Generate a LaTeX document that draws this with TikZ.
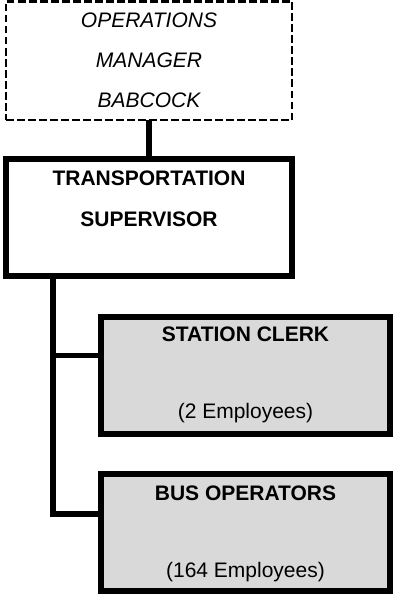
\documentclass[tikz,border=0pt]{standalone}
\usepackage{fontspec}
\setmainfont{Liberation Sans}
\begin{document}
\begin{tikzpicture}[x=1pt,y=-1pt,
  box/.style={draw=black, rectangle, inner sep=0pt, outer sep=0pt, anchor=north west},
  headbox/.style={box, line width=2.6pt, dash pattern=on 7.5pt off 3.5pt},
  mainbox/.style={box, line width=6pt, fill=white},
  staffbox/.style={box, line width=6pt, fill=boxgray},
  link/.style={draw=black, line width=5.5pt},
  lbl/.style={anchor=base, inner sep=0pt, font=\fontsize{21}{25}\selectfont},
  blbl/.style={lbl, font=\fontsize{21}{25}\selectfont\bfseries},
  ilbl/.style={lbl, font=\fontsize{21}{25}\selectfont\itshape}]
\definecolor{boxgray}{HTML}{D9D9D9}
\useasboundingbox (0,0) rectangle (393,594);

% reporting line from the manager down to the supervisor
\node[headbox, minimum width=286pt, minimum height=118.5pt] (mgr) at (6,1.5) {};
\node[mainbox, minimum width=286pt, minimum height=117pt] (sup) at (6,159) {};
\draw[link] (mgr.south) -- (sup.north);

% staff boxes
\node[staffbox, minimum width=289pt, minimum height=117pt] (clerk) at (101,317) {};
\node[staffbox, minimum width=289pt, minimum height=116.5pt] (bus) at (101,474) {};

% trunk and branches (shifts are in page points, so downwards is negative)
\coordinate (trunk) at ([xshift=47pt]sup.south west);
\coordinate (clerkin) at ([yshift=-38.5pt]clerk.north west);
\coordinate (busin) at ([yshift=-40pt]bus.north west);
\draw[link] (trunk) |- (busin);
\draw[link] (trunk |- clerkin) -- (clerkin);

% labels
\node[ilbl] (t1) at (149,28) {OPERATIONS};
\node[ilbl] (t2) at (149,67.5) {MANAGER};
\node[ilbl] (t3) at (149,107.5) {BABCOCK};
\node[blbl] (t4) at (149,185) {TRANSPORTATION};
\node[blbl] (t5) at (149,226) {SUPERVISOR};
\node[blbl] (t6) at (245.5,341) {STATION CLERK};
\node[lbl] (t7) at (245.5,418.5) {(2 Employees)};
\node[blbl] (t8) at (245.5,500.5) {BUS OPERATORS};
\node[lbl] (t9) at (245.5,577.5) {(164 Employees)};
\end{tikzpicture}
\end{document}
